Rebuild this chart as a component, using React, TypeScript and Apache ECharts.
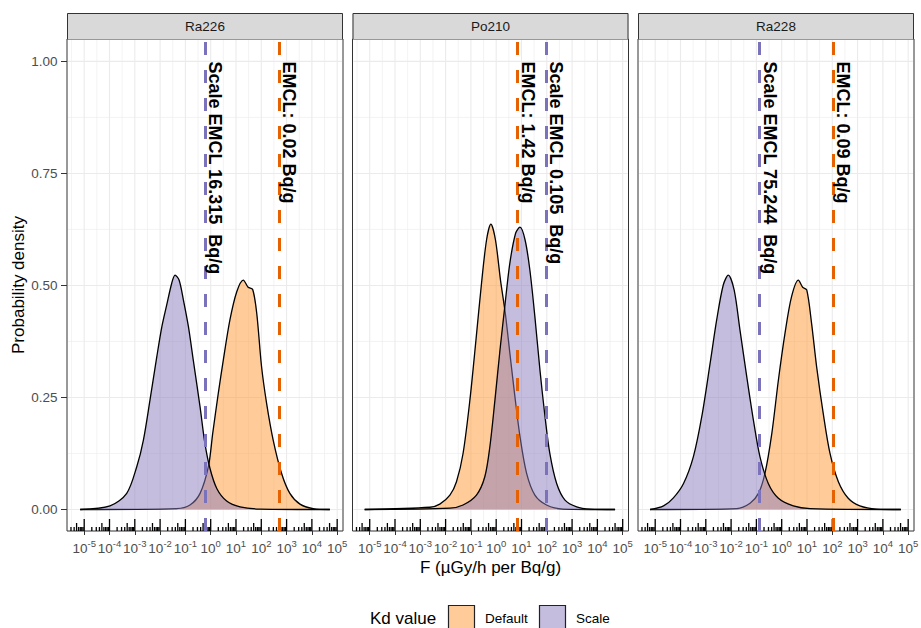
import React, { useEffect, useRef } from "react";
import * as echarts from "echarts";

// ---------- data (x = log10 F, y = probability density) ----------
const panelNames = ["Ra226", "Po210", "Ra228"];
const groupNames = ["Default", "Scale"];

const ra226Default: number[][] = [
  [-5.16, 0], [-1.35, 0.002], [-0.82, 0.01], [-0.42, 0.036], [-0.09, 0.096], [0.08, 0.17],
  [0.3, 0.259], [0.5, 0.334], [0.76, 0.423], [1.03, 0.486], [1.29, 0.512], [1.48, 0.496],
  [1.66, 0.491], [1.82, 0.438], [2.01, 0.319], [2.21, 0.237], [2.47, 0.155], [2.8, 0.081],
  [3.13, 0.036], [3.53, 0.012], [4.05, 0.002], [4.71, 0],
];
const ra226Scale: number[][] = [
  [-5.16, 0], [-3.98, 0.008], [-3.32, 0.036], [-2.92, 0.096], [-2.66, 0.155], [-2.4, 0.244],
  [-2.13, 0.341], [-1.93, 0.408], [-1.74, 0.456], [-1.54, 0.505], [-1.41, 0.523], [-1.25, 0.512],
  [-1.08, 0.468], [-0.88, 0.408], [-0.69, 0.334], [-0.42, 0.229], [-0.23, 0.148], [-0.03, 0.092],
  [0.24, 0.047], [0.63, 0.019], [1.16, 0.006], [1.95, 0.001], [4.71, 0],
];
const po210Default: number[][] = [
  [-5.2, 0], [-2.62, 0.005], [-2.23, 0.012], [-1.83, 0.032], [-1.57, 0.062], [-1.31, 0.125],
  [-1.04, 0.244], [-0.8, 0.378], [-0.58, 0.505], [-0.38, 0.602], [-0.21, 0.637], [-0.03, 0.602],
  [0.17, 0.512], [0.36, 0.438], [0.54, 0.349], [0.74, 0.252], [0.94, 0.163], [1.2, 0.081],
  [1.53, 0.032], [1.99, 0.01], [2.65, 0.001], [4.7, 0],
];
const po210Scale: number[][] = [
  [-5.2, 0], [-1.83, 0.003], [-1.31, 0.01], [-0.78, 0.032], [-0.45, 0.073], [-0.25, 0.14],
  [-0.05, 0.244], [0.15, 0.356], [0.34, 0.453], [0.54, 0.55], [0.77, 0.617], [0.94, 0.63],
  [1.14, 0.602], [1.33, 0.535], [1.53, 0.43], [1.73, 0.311], [1.93, 0.207], [2.12, 0.125],
  [2.39, 0.058], [2.72, 0.021], [3.18, 0.006], [3.71, 0.001], [4.7, 0],
];
const ra228Default: number[][] = [
  [-5.2, 0], [-1.78, 0.002], [-1.25, 0.014], [-0.92, 0.036], [-0.66, 0.081], [-0.39, 0.17],
  [-0.13, 0.289], [0.13, 0.393], [0.39, 0.475], [0.66, 0.512], [0.83, 0.496], [0.99, 0.49],
  [1.18, 0.416], [1.38, 0.319], [1.64, 0.215], [1.91, 0.125], [2.24, 0.062], [2.63, 0.025],
  [3.09, 0.008], [3.75, 0.001], [4.71, 0],
];
const ra228Scale: number[][] = [
  [-5.2, 0], [-4.67, 0.008], [-4.28, 0.026], [-3.88, 0.058], [-3.49, 0.118], [-3.16, 0.207],
  [-2.83, 0.326], [-2.57, 0.423], [-2.31, 0.501], [-2.11, 0.523], [-1.88, 0.49], [-1.65, 0.401],
  [-1.38, 0.296], [-1.12, 0.2], [-0.86, 0.118], [-0.53, 0.058], [-0.13, 0.025], [0.46, 0.008],
  [1.12, 0.002], [4.71, 0],
];

// EMCL thresholds expressed as F (µGy/h per Bq/g)
const defaultLineF = [500, 7.04, 111.1];
const scaleLineF = [0.613, 95.2, 0.1329];
const defaultLabels = ["EMCL: 0.02 Bq/g", "EMCL: 1.42 Bq/g", "EMCL: 0.09 Bq/g"];
const scaleLabels = ["Scale EMCL 16.315  Bq/g", "Scale EMCL 0.105  Bq/g", "Scale EMCL 75.244  Bq/g"];

const xTickExponents = [-5, -4, -3, -2, -1, 0, 1, 2, 3, 4, 5];
const xMinorGrid = [-5.5, -4.5, -3.5, -2.5, -1.5, -0.5, 0.5, 1.5, 2.5, 3.5, 4.5];
const yTicks = [0, 0.25, 0.5, 0.75, 1];
const yMinorGrid = [0.125, 0.375, 0.625, 0.875];

// ---------- layout / style ----------
const X_MIN = -5.68;
const X_MAX = 5.23;
const Y_MIN = -0.048;
const Y_MAX = 1.05;
const GRID_LEFT = [67, 352.5, 638];
const GRID_TOP = 39;
const GRID_W = 276;
const GRID_H = 492;
const FONT = "'Liberation Sans', Arial, sans-serif";
const DEFAULT_FILL = "rgba(255,153,51,0.5)";
const SCALE_FILL = "rgba(137,123,187,0.5)";
const DEFAULT_LINE = "#E66101";
const SCALE_LINE = "#7B72BC";
const RUG_LEN = [4, 8, 12];

const densities = [
  [ra226Default, ra226Scale],
  [po210Default, po210Scale],
  [ra228Default, ra228Scale],
];

function logTickData(): number[][] {
  const out: number[][] = [];
  for (let n = -6; n <= 5; n++) {
    for (let k = 1; k <= 9; k++) {
      const v = n + Math.log10(k);
      if (v >= X_MIN && v <= X_MAX) out.push([v, k === 1 ? 2 : k === 5 ? 1 : 0]);
    }
  }
  return out;
}

function buildOption(): any {
  const grids: any[] = [];
  const xAxes: any[] = [];
  const yAxes: any[] = [];
  const series: any[] = [];
  const graphic: any[] = [];
  const rug = logTickData();

  panelNames.forEach((name, i) => {
    grids.push({
      left: GRID_LEFT[i], top: GRID_TOP, width: GRID_W, height: GRID_H,
      show: true, borderColor: "#333333", borderWidth: 1, backgroundColor: "#ffffff",
      containLabel: false, outerBoundsMode: "none",
    });
    xAxes.push({
      type: "value", gridIndex: i, min: X_MIN, max: X_MAX, position: "bottom",
      axisLine: { show: false, onZero: false }, splitLine: { show: false },
      minorTick: { show: false }, minorSplitLine: { show: false },
      axisTick: { show: true, customValues: xTickExponents, length: 4, lineStyle: { color: "#333333" } },
      axisLabel: {
        customValues: xTickExponents, margin: 7, color: "#4d4d4d",
        formatter: (v: number) => `{b|10}{s|${v}}`,
        rich: {
          b: { fontSize: 13.5, fontFamily: FONT, color: "#4d4d4d", lineHeight: 17, verticalAlign: "bottom" },
          s: { fontSize: 9.5, fontFamily: FONT, color: "#4d4d4d", lineHeight: 8, verticalAlign: "top" },
        },
      },
    });
    yAxes.push({
      type: "value", gridIndex: i, min: Y_MIN, max: Y_MAX,
      axisLine: { show: false, onZero: false }, splitLine: { show: false },
      minorTick: { show: false }, minorSplitLine: { show: false },
      axisTick: { show: i === 0, customValues: yTicks, length: 6, lineStyle: { color: "#333333" } },
      axisLabel: {
        show: i === 0, customValues: yTicks, margin: 9.5, color: "#4d4d4d",
        fontSize: 13.5, fontFamily: FONT, formatter: (v: number) => v.toFixed(2),
      },
    });

    // panel grid lines (vertical)
    series.push({
      type: "custom", xAxisIndex: i, yAxisIndex: i, z: 1, silent: true,
      data: xTickExponents.map((v) => [v, 0.5, 1]).concat(xMinorGrid.map((v) => [v, 0.5, 0])),
      renderItem: (_p: any, api: any) => {
        const v = api.value(0);
        const a = api.coord([v, Y_MIN]);
        const b = api.coord([v, Y_MAX]);
        return {
          type: "line",
          shape: { x1: a[0], y1: a[1] - 1, x2: b[0], y2: b[1] + 1 },
          style: { stroke: "#ebebeb", lineWidth: api.value(2) ? 1.1 : 0.6 },
        };
      },
    });
    // panel grid lines (horizontal)
    series.push({
      type: "custom", xAxisIndex: i, yAxisIndex: i, z: 1, silent: true,
      data: yTicks.map((v) => [0, v, 1]).concat(yMinorGrid.map((v) => [0, v, 0])),
      renderItem: (_p: any, api: any) => {
        const v = api.value(1);
        const a = api.coord([X_MIN, v]);
        const b = api.coord([X_MAX, v]);
        return {
          type: "line",
          shape: { x1: a[0] + 1, y1: a[1], x2: b[0] - 1, y2: b[1] },
          style: { stroke: "#ebebeb", lineWidth: api.value(2) ? 1.1 : 0.6 },
        };
      },
    });

    // density areas
    const [dDef, dSc] = densities[i];
    series.push({
      type: "line", name: groupNames[0], xAxisIndex: i, yAxisIndex: i, z: 2,
      data: dDef, smooth: 0.3, symbol: "none", silent: true,
      lineStyle: { color: "#000", width: 1.3 },
      areaStyle: { color: DEFAULT_FILL, opacity: 1 },
      markLine: {
        silent: true, symbol: ["none", "none"], z: 5, label: { show: false },
        lineStyle: { color: DEFAULT_LINE, width: 3, type: [13, 15] },
        data: [{ xAxis: Math.log10(defaultLineF[i]) }],
      },
    });
    series.push({
      type: "line", name: groupNames[1], xAxisIndex: i, yAxisIndex: i, z: 3,
      data: dSc, smooth: 0.3, symbol: "none", silent: true,
      lineStyle: { color: "#000", width: 1.3 },
      areaStyle: { color: SCALE_FILL, opacity: 1 },
      markLine: {
        silent: true, symbol: ["none", "none"], z: 5, label: { show: false },
        lineStyle: { color: SCALE_LINE, width: 3, type: [13, 15] },
        data: [{ xAxis: Math.log10(scaleLineF[i]) }],
      },
    });

    // log ticks (rug)
    series.push({
      type: "custom", xAxisIndex: i, yAxisIndex: i, z: 4, silent: true,
      data: rug.map((r) => [r[0], 0, r[1]]),
      renderItem: (_p: any, api: any) => {
        const p = api.coord([api.value(0), Y_MIN]);
        const len = RUG_LEN[api.value(2)];
        return {
          type: "line",
          shape: { x1: p[0], y1: p[1], x2: p[0], y2: p[1] - len },
          style: { stroke: "#000000", lineWidth: 1.3 },
        };
      },
    });

    // threshold labels
    const texts = [defaultLabels[i], scaleLabels[i]];
    series.push({
      type: "custom", xAxisIndex: i, yAxisIndex: i, z: 6, silent: true,
      data: [
        [Math.log10(defaultLineF[i]), 1, 0],
        [Math.log10(scaleLineF[i]), 1, 1],
      ],
      renderItem: (_p: any, api: any) => {
        const p = api.coord([api.value(0), api.value(1)]);
        return {
          type: "text", x: p[0] + 1, y: p[1], rotation: -Math.PI / 2,
          style: {
            text: texts[api.value(2)], fill: "#000",
            font: `bold 18px ${FONT}`, align: "left", verticalAlign: "bottom",
          },
        };
      },
    });

    // strip (fill + separate border lines)
    const L = GRID_LEFT[i];
    graphic.push({
      type: "rect", silent: true, z: 100,
      shape: { x: L, y: 13, width: GRID_W, height: 26 },
      style: { fill: "#d9d9d9", lineWidth: 0 },
    });
    graphic.push({
      type: "polyline", silent: true, z: 101,
      shape: { points: [[L + 0.5, 39], [L + 0.5, 13.5], [L + GRID_W - 0.5, 13.5], [L + GRID_W - 0.5, 39]] },
      style: { stroke: "#333333", lineWidth: 1, fill: null },
    });
    graphic.push({
      type: "text", silent: true, z: 102, x: L + GRID_W / 2, y: 26.5,
      style: { text: name, fill: "#1a1a1a", font: `13.5px ${FONT}`, align: "center", verticalAlign: "middle" },
    });
  });

  // axis titles
  graphic.push({
    type: "text", silent: true, x: 18, y: 285, rotation: Math.PI / 2,
    style: { text: "Probability density", fill: "#000", font: `17px ${FONT}`, align: "center", verticalAlign: "middle" },
  });
  graphic.push({
    type: "text", silent: true, x: 490.5, y: 567,
    style: { text: "F (µGy/h per Bq/g)", fill: "#000", font: `17px ${FONT}`, align: "center", verticalAlign: "middle" },
  });

  // legend
  graphic.push({
    type: "text", silent: true, x: 370, y: 618,
    style: { text: "Kd value", fill: "#000", font: `17px ${FONT}`, align: "left", verticalAlign: "middle" },
  });
  graphic.push({
    type: "rect", silent: true, shape: { x: 448.5, y: 605.5, width: 26, height: 26 },
    style: { fill: DEFAULT_FILL, stroke: "#222", lineWidth: 1.2 },
  });
  graphic.push({
    type: "text", silent: true, x: 485, y: 618.5,
    style: { text: groupNames[0], fill: "#000", font: `13.5px ${FONT}`, align: "left", verticalAlign: "middle" },
  });
  graphic.push({
    type: "rect", silent: true, shape: { x: 539.5, y: 605.5, width: 26, height: 26 },
    style: { fill: SCALE_FILL, stroke: "#222", lineWidth: 1.2 },
  });
  graphic.push({
    type: "text", silent: true, x: 576, y: 618.5,
    style: { text: groupNames[1], fill: "#000", font: `13.5px ${FONT}`, align: "left", verticalAlign: "middle" },
  });

  return {
    animation: false,
    backgroundColor: "#ffffff",
    textStyle: { fontFamily: FONT },
    grid: grids,
    xAxis: xAxes,
    yAxis: yAxes,
    series,
    graphic,
  };
}

export default function App() {
  const ref = useRef<HTMLDivElement>(null);
  useEffect(() => {
    document.body.style.margin = "0";
    if (!ref.current) return;
    const chart = echarts.init(ref.current, undefined, { renderer: "svg" });
    chart.setOption(buildOption());
    return () => chart.dispose();
  }, []);
  return <div ref={ref} style={{ width: 921, height: 628 }} />;
}
